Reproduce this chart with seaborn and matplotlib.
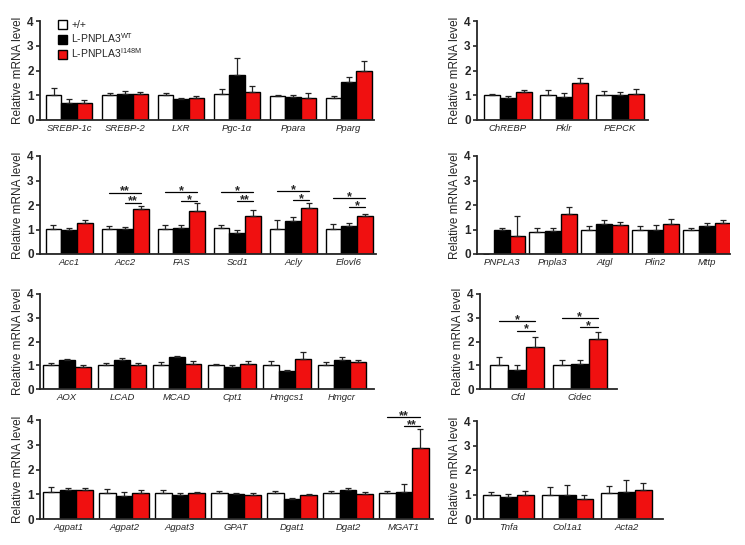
import numpy as np
import pandas as pd
import matplotlib
matplotlib.use('Agg')
import matplotlib.pyplot as plt
import seaborn as sns
from matplotlib.patches import Patch

# Style
sns.set_style('ticks')
plt.rcParams['font.family'] = ['Liberation Sans', 'DejaVu Sans']
plt.rcParams['mathtext.fontset'] = 'custom'
plt.rcParams['mathtext.rm'] = 'Liberation Sans'
plt.rcParams['mathtext.it'] = 'Liberation Sans:italic'

groups = ['+/+', 'L-PNPLA3$^{\\mathrm{WT}}$', 'L-PNPLA3$^{\\mathrm{I148M}}$']
colors = ['white', 'black', '#F01010']

# Data

## Transcription factors
tf_genes = ['SREBP-1c', 'SREBP-2', 'LXR', 'Pgc-1\u03b1', 'Ppara', 'Pparg']
tf_ctrl = [1.01, 1.00, 1.00, 1.04, 0.98, 0.90]
tf_wt = [0.67, 1.05, 0.83, 1.80, 0.94, 1.54]
tf_mut = [0.67, 1.06, 0.87, 1.12, 0.88, 1.98]
tf_ctrl_err = [0.30, 0.10, 0.10, 0.21, 0.05, 0.08]
tf_wt_err = [0.18, 0.11, 0.07, 0.72, 0.06, 0.21]
tf_mut_err = [0.13, 0.07, 0.11, 0.24, 0.22, 0.42]

## Glucose
glu_genes = ['ChREBP', 'Pklr', 'PEPCK']
glu_ctrl = [1.00, 1.02, 1.00]
glu_wt = [0.90, 0.92, 1.01]
glu_mut = [1.13, 1.48, 1.06]
glu_ctrl_err = [0.05, 0.18, 0.18]
glu_wt_err = [0.07, 0.16, 0.12]
glu_mut_err = [0.08, 0.23, 0.21]

## Lipogenesis
lip_genes = ['Acc1', 'Acc2', 'FAS', 'Scd1', 'Acly', 'Elovl6']
lip_ctrl = [1.01, 1.04, 1.01, 1.05, 1.01, 1.01]
lip_wt = [0.97, 1.01, 1.05, 0.85, 1.35, 1.15]
lip_mut = [1.26, 1.84, 1.77, 1.57, 1.86, 1.54]
lip_ctrl_err = [0.16, 0.09, 0.19, 0.12, 0.37, 0.22]
lip_wt_err = [0.11, 0.11, 0.15, 0.12, 0.14, 0.11]
lip_mut_err = [0.13, 0.11, 0.32, 0.21, 0.23, 0.08]
lip_sig = [(1, 2.51, 2.10, '**', '**'), (2, 2.54, 2.18, '*', '*'),
           (3, 2.54, 2.18, '*', '**'), (4, 2.57, 2.19, '*', '*'),
           (5, 2.27, 1.90, '*', '*')]

## Lipid droplet
ld_genes = ['PNPLA3', 'Pnpla3', 'Atgl', 'Plin2', 'Mttp']
ld_ctrl = [0.0, 0.91, 0.99, 0.99, 0.98]
ld_wt = [0.98, 0.94, 1.23, 0.99, 1.15]
ld_mut = [0.75, 1.63, 1.17, 1.23, 1.26]
ld_ctrl_err = [np.nan, 0.15, 0.16, 0.16, 0.08]
ld_wt_err = [0.08, 0.13, 0.14, 0.20, 0.11]
ld_mut_err = [0.82, 0.27, 0.15, 0.21, 0.11]

## Oxidation / cholesterol
ox_genes = ['AOX', 'LCAD', 'MCAD', 'Cpt1', 'Hmgcs1', 'Hmgcr']
ox_ctrl = [1.01, 1.01, 1.01, 1.01, 1.01, 1.01]
ox_wt = [1.21, 1.21, 1.34, 0.93, 0.77, 1.23]
ox_mut = [0.92, 1.01, 1.04, 1.04, 1.25, 1.14]
ox_ctrl_err = [0.10, 0.10, 0.12, 0.03, 0.17, 0.14]
ox_wt_err = [0.04, 0.09, 0.07, 0.06, 0.05, 0.12]
ox_mut_err = [0.07, 0.07, 0.13, 0.13, 0.30, 0.10]

## Adipocyte
adi_genes = ['Cfd', 'Cidec']
adi_ctrl = [1.00, 1.00]
adi_wt = [0.81, 1.04]
adi_mut = [1.78, 2.12]
adi_ctrl_err = [0.33, 0.22]
adi_wt_err = [0.19, 0.18]
adi_mut_err = [0.42, 0.29]
adi_sig = [(0, 2.86, 2.46, '*', '*'), (1, 3.00, 2.60, '*', '*')]

## TG synthesis
tg_genes = ['Agpat1', 'Agpat2', 'Agpat3', 'GPAT', 'Dgat1', 'Dgat2', 'MGAT1']
tg_ctrl = [1.09, 1.04, 1.04, 1.04, 1.04, 1.04, 1.04]
tg_wt = [1.19, 0.94, 0.98, 1.00, 0.82, 1.19, 1.10]
tg_mut = [1.19, 1.04, 1.07, 0.98, 0.96, 1.03, 2.85]
tg_ctrl_err = [0.19, 0.16, 0.14, 0.09, 0.09, 0.11, 0.09]
tg_wt_err = [0.08, 0.16, 0.06, 0.05, 0.03, 0.08, 0.31]
tg_mut_err = [0.08, 0.12, 0.02, 0.07, 0.05, 0.07, 0.77]
tg_sig = [(6, 4.11, 3.77, '**', '**')]

## Inflammation / fibrosis
inf_genes = ['Tnfa', 'Col1a1', 'Acta2']
inf_ctrl = [1.00, 1.00, 1.08]
inf_wt = [0.89, 0.96, 1.11]
inf_mut = [0.96, 0.80, 1.18]
inf_ctrl_err = [0.11, 0.32, 0.26]
inf_wt_err = [0.15, 0.44, 0.49]
inf_mut_err = [0.18, 0.20, 0.27]

W, H = 745, 545
fig = plt.figure(figsize=(W / 100, H / 100), dpi=100)


def panel(px, xlim, width, genes, means, errs, sig=(), legend=False):
    x0, y0, x1, y1 = px
    ax = fig.add_axes([x0 / W, 1 - y1 / H, (x1 - x0) / W, (y1 - y0) / H])
    df = pd.DataFrame({
        'gene': genes * 3,
        'group': np.repeat(groups, len(genes)),
        'value': np.concatenate(means),
    })
    sns.barplot(data=df, x='gene', y='value', hue='group', order=genes,
                hue_order=groups, palette=dict(zip(groups, colors)),
                saturation=1, edgecolor='black', linewidth=1, width=width,
                errorbar=None, legend=False, ax=ax)
    centers = []
    for bars, err in zip(ax.containers, errs):
        xs = np.array([b.get_x() + b.get_width() / 2 for b in bars])
        ys = np.array([b.get_height() for b in bars])
        centers.append(xs)
        ax.errorbar(xs, ys, yerr=[np.zeros(len(xs)), np.array(err)],
                    fmt='none', ecolor='#222222', elinewidth=0.9,
                    capsize=2.5, capthick=0.9, zorder=3)
    for i, y_long, y_short, s_long, s_short in sig:
        for xa, y, s in [(centers[0][i], y_long, s_long),
                         (centers[1][i], y_short, s_short)]:
            xb = centers[2][i]
            ax.plot([xa, xb], [y, y], color='black', lw=0.9, clip_on=False)
            ax.annotate(s, xy=((xa + xb) / 2, y), xytext=(0, -1.5),
                        textcoords='offset points', ha='center',
                        va='baseline', fontsize=9, fontweight='bold',
                        annotation_clip=False)
    ax.set_ylim(0, 4)
    ax.set_xlim(*xlim)
    ax.set_yticks([0, 1, 2, 3, 4])
    ax.set_xlabel('')
    ax.set_ylabel('Relative mRNA level', fontsize=8.5, labelpad=2)
    ax.tick_params(axis='y', length=3, width=1.2, labelsize=8.5, pad=1.5)
    ax.tick_params(axis='x', length=0, labelsize=6.8, pad=3)
    for lbl in ax.get_yticklabels():
        lbl.set_fontweight('bold')
    for lbl in ax.get_xticklabels():
        lbl.set_style('italic')
    sns.despine(ax=ax)
    for side in ['left', 'bottom']:
        ax.spines[side].set_linewidth(1.3)
    if legend:
        handles = [Patch(facecolor=c, edgecolor='black', lw=1) for c in colors]
        ax.legend(handles, groups, loc='upper left', bbox_to_anchor=(0.055, 1.01),
                  frameon=False, fontsize=7.5, handlelength=0.85,
                  handleheight=0.95, handletextpad=0.4, labelspacing=0.1,
                  borderaxespad=0, borderpad=0)
    return ax


panel((40, 21, 374, 120), (-0.52, 5.45), 0.82, tf_genes,
      [tf_ctrl, tf_wt, tf_mut], [tf_ctrl_err, tf_wt_err, tf_mut_err], legend=True)
panel((477, 21, 648, 120), (-0.55, 2.5), 0.86, glu_genes,
      [glu_ctrl, glu_wt, glu_mut], [glu_ctrl_err, glu_wt_err, glu_mut_err])
panel((40, 156, 376, 254), (-0.52, 5.48), 0.84, lip_genes,
      [lip_ctrl, lip_wt, lip_mut], [lip_ctrl_err, lip_wt_err, lip_mut_err], sig=lip_sig)
panel((477, 156, 730, 254), (-0.48, 4.45), 0.92, ld_genes,
      [ld_ctrl, ld_wt, ld_mut], [ld_ctrl_err, ld_wt_err, ld_mut_err])
panel((40, 294, 374, 389), (-0.49, 5.58), 0.87, ox_genes,
      [ox_ctrl, ox_wt, ox_mut], [ox_ctrl_err, ox_wt_err, ox_mut_err])
panel((480, 294, 617, 389), (-0.6, 1.6), 0.87, adi_genes,
      [adi_ctrl, adi_wt, adi_mut], [adi_ctrl_err, adi_wt_err, adi_mut_err], sig=adi_sig)
panel((40, 420, 433, 519), (-0.5, 6.52), 0.89, tg_genes,
      [tg_ctrl, tg_wt, tg_mut], [tg_ctrl_err, tg_wt_err, tg_mut_err], sig=tg_sig)
panel((477, 421, 663, 519), (-0.53, 2.62), 0.86, inf_genes,
      [inf_ctrl, inf_wt, inf_mut], [inf_ctrl_err, inf_wt_err, inf_mut_err])

fig.savefig('out.png', dpi=100)
